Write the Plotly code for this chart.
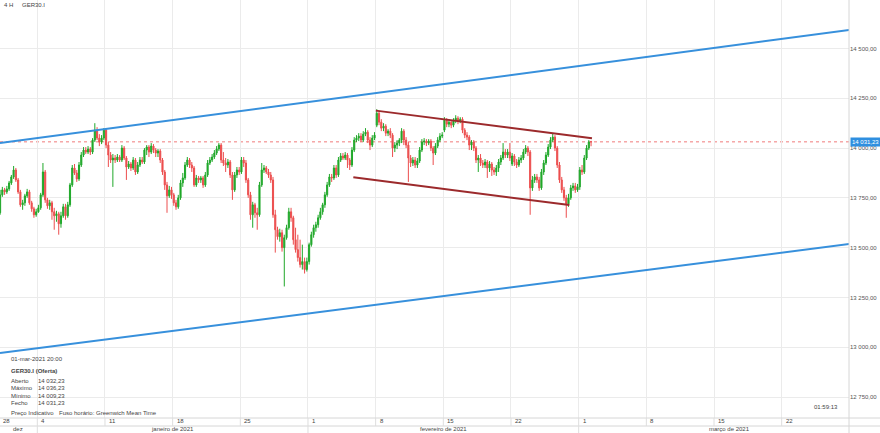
import plotly.graph_objects as go

# ---- data (4H candles, GER30.I, 28-dez-2020 .. 01-mar-2021 20:00) ----
opens = [
 13675, 13765, 13790, 13780, 13795, 13825, 13855, 13890, 13840, 13780,
 13715, 13725, 13760, 13780, 13725, 13695, 13665, 13680, 13700, 13765,
 13880, 13740, 13710, 13725, 13680, 13660, 13670, 13620, 13660, 13705,
 13660, 13715, 13815, 13900, 13875, 13845, 13915, 13965, 13990, 13980,
 13995, 13980, 14040, 14090, 14050, 14030, 14050, 14090, 14015, 13965,
 13940, 13950, 13940, 13955, 13940, 14000, 13950, 13905, 13920, 13900,
 13940, 13880, 13915, 13940, 13930, 13990, 14005, 13980, 14010, 13990,
 13975, 13985, 13940, 13880, 13815, 13760, 13790, 13765, 13725, 13705,
 13750, 13825, 13850, 13915, 13940, 13915, 13900, 13815, 13850, 13840,
 13850, 13815, 13865, 13925, 13940, 13955, 13975, 13995, 14015, 13940,
 13925, 13915, 13930, 13865, 13790, 13865, 13890, 13880, 13940, 13925,
 13840, 13765, 13665, 13715, 13675, 13665, 13815, 13890, 13900, 13880,
 13865, 13840, 13665, 13590, 13555, 13575, 13500, 13550, 13600, 13680,
 13650, 13540, 13490, 13450, 13415, 13430, 13390, 13430, 13515, 13565,
 13600, 13615, 13650, 13680, 13715, 13765, 13815, 13855, 13850, 13900,
 13865, 13940, 13960, 13950, 13965, 13940, 13915, 13990, 14040, 14050,
 14060, 14040, 14070, 14080, 14040, 14015, 14050, 14115, 14175, 14130,
 14100, 14110, 14075, 14085, 14065, 14000, 14015, 14025, 14040, 14085,
 14040, 14015, 13950, 13925, 13940, 13915, 13935, 13990, 14030, 14035,
 14025, 14035, 14000, 13975, 14010, 14040, 14060, 14090, 14140, 14120,
 14130, 14115, 14140, 14150, 14135, 14145, 14090, 14065, 14055, 14015,
 14030, 14000, 13940, 13950, 13925, 13915, 13930, 13900, 13920, 13890,
 13880, 13900, 13930, 13950, 13980, 13965, 13980, 13920, 13960, 13930,
 13915, 13940, 13950, 13980, 14000, 13980, 13800, 13840, 13855, 13840,
 13800, 13880, 13925, 13965, 14005, 14040, 14055, 14000, 13915, 13840,
 13790, 13750, 13720, 13750, 13800, 13810, 13790, 13805, 13890, 13880,
 13950, 14000, 14032.23]
highs = [
 13790, 13805, 13800, 13810, 13835, 13865, 13910, 13900, 13850, 13790,
 13740, 13770, 13795, 13790, 13735, 13705, 13695, 13715, 13775, 13925,
 13890, 13750, 13740, 13735, 13700, 13685, 13680, 13680, 13720, 13720,
 13730, 13825, 13915, 13920, 13890, 13930, 13980, 14005, 14005, 14010,
 14005, 14050, 14125, 14105, 14070, 14065, 14100, 14100, 14030, 13980,
 13970, 13965, 13970, 13965, 14015, 14010, 13960, 13935, 13930, 13955,
 13950, 13930, 13955, 13955, 14000, 14015, 14015, 14025, 14020, 14000,
 13995, 13995, 13950, 13890, 13830, 13810, 13805, 13775, 13740, 13765,
 13840, 13875, 13930, 13955, 13950, 13930, 13910, 13865, 13860, 13860,
 13860, 13880, 13940, 13955, 13970, 13990, 14010, 14025, 14025, 13980,
 13950, 13945, 13940, 13880, 13880, 13905, 13905, 13955, 13955, 13940,
 13850, 13780, 13730, 13725, 13700, 13830, 13925, 13915, 13910, 13895,
 13880, 13855, 13690, 13605, 13595, 13590, 13565, 13615, 13700, 13700,
 13660, 13600, 13565, 13540, 13515, 13450, 13450, 13525, 13580, 13615,
 13630, 13665, 13700, 13725, 13780, 13830, 13870, 13870, 13915, 13915,
 13955, 13975, 13975, 13980, 13975, 13950, 14005, 14055, 14065, 14075,
 14075, 14085, 14100, 14090, 14055, 14065, 14080, 14195, 14185, 14145,
 14125, 14120, 14095, 14100, 14075, 14030, 14040, 14050, 14100, 14095,
 14055, 14030, 13965, 13955, 13955, 13950, 14005, 14045, 14050, 14045,
 14045, 14045, 14010, 14025, 14055, 14075, 14080, 14155, 14150, 14145,
 14140, 14150, 14165, 14160, 14155, 14155, 14100, 14080, 14065, 14040,
 14040, 14010, 13965, 13970, 13940, 13945, 13940, 13935, 13930, 13905,
 13915, 13945, 13965, 14025, 13995, 13995, 14025, 13975, 13970, 13945,
 13955, 13965, 13995, 14015, 14010, 13990, 13860, 13870, 13870, 13855,
 13895, 13940, 13980, 14020, 14055, 14075, 14065, 14010, 13930, 13855,
 13805, 13765, 13770, 13815, 13825, 13825, 13820, 13905, 13915, 13965,
 14015, 14040, 14036.23]
lows = [
 13665, 13755, 13765, 13770, 13785, 13815, 13845, 13830, 13770, 13705,
 13690, 13710, 13750, 13715, 13680, 13650, 13655, 13675, 13690, 13755,
 13725, 13695, 13690, 13640, 13590, 13630, 13565, 13600, 13650, 13640,
 13650, 13705, 13805, 13865, 13830, 13835, 13905, 13955, 13970, 13970,
 13965, 13970, 14030, 14040, 14010, 14020, 14040, 14000, 13905, 13925,
 13805, 13925, 13930, 13930, 13930, 13940, 13840, 13895, 13885, 13890,
 13865, 13870, 13905, 13920, 13920, 13965, 13955, 13970, 13975, 13955,
 13955, 13925, 13865, 13790, 13675, 13750, 13745, 13710, 13690, 13695,
 13740, 13805, 13840, 13905, 13900, 13880, 13805, 13805, 13825, 13825,
 13800, 13805, 13855, 13915, 13930, 13945, 13965, 13985, 13925, 13910,
 13880, 13900, 13850, 13740, 13780, 13850, 13865, 13870, 13905, 13825,
 13750, 13640, 13600, 13650, 13590, 13655, 13805, 13875, 13870, 13850,
 13825, 13650, 13475, 13540, 13530, 13480, 13305, 13540, 13590, 13630,
 13515, 13475, 13430, 13400, 13390, 13370, 13380, 13415, 13505, 13550,
 13580, 13600, 13640, 13665, 13700, 13755, 13805, 13830, 13840, 13850,
 13855, 13930, 13940, 13940, 13900, 13890, 13905, 13980, 14030, 14035,
 14030, 14030, 14060, 14025, 13990, 14005, 14040, 14105, 14115, 14085,
 14085, 14060, 14060, 14050, 13955, 13980, 13995, 14010, 14025, 14015,
 14000, 13830, 13905, 13910, 13900, 13900, 13925, 13980, 14015, 14010,
 14015, 13985, 13915, 13965, 14000, 14030, 14050, 14080, 14105, 14105,
 14100, 14105, 14125, 14120, 14125, 14075, 14050, 14040, 13990, 13990,
 13985, 13925, 13880, 13910, 13900, 13900, 13850, 13880, 13860, 13865,
 13860, 13880, 13915, 13940, 13950, 13950, 13935, 13910, 13910, 13900,
 13905, 13925, 13940, 13970, 13960, 13665, 13785, 13825, 13825, 13785,
 13790, 13865, 13915, 13955, 13995, 14030, 13985, 13900, 13825, 13775,
 13735, 13650, 13705, 13740, 13785, 13775, 13780, 13790, 13865, 13870,
 13940, 13990, 14009.23]
closes = [
 13765, 13790, 13780, 13795, 13825, 13855, 13890, 13840, 13780, 13715,
 13725, 13760, 13780, 13725, 13695, 13665, 13680, 13700, 13765, 13880,
 13740, 13710, 13725, 13680, 13660, 13670, 13620, 13660, 13705, 13660,
 13715, 13815, 13900, 13875, 13845, 13915, 13965, 13990, 13980, 13995,
 13980, 14040, 14090, 14050, 14030, 14050, 14090, 14015, 13965, 13940,
 13950, 13940, 13955, 13940, 14000, 13950, 13905, 13920, 13900, 13940,
 13880, 13915, 13940, 13930, 13990, 14005, 13980, 14010, 13990, 13975,
 13985, 13940, 13880, 13815, 13760, 13790, 13765, 13725, 13705, 13750,
 13825, 13850, 13915, 13940, 13915, 13900, 13815, 13850, 13840, 13850,
 13815, 13865, 13925, 13940, 13955, 13975, 13995, 14015, 13940, 13925,
 13915, 13930, 13865, 13790, 13865, 13890, 13880, 13940, 13925, 13840,
 13765, 13665, 13715, 13675, 13665, 13815, 13890, 13900, 13880, 13865,
 13840, 13665, 13590, 13555, 13575, 13500, 13550, 13600, 13680, 13650,
 13540, 13490, 13450, 13415, 13430, 13390, 13430, 13515, 13565, 13600,
 13615, 13650, 13680, 13715, 13765, 13815, 13855, 13850, 13900, 13865,
 13940, 13960, 13950, 13965, 13940, 13915, 13990, 14040, 14050, 14060,
 14040, 14070, 14080, 14040, 14015, 14050, 14065, 14175, 14130, 14100,
 14110, 14075, 14085, 14065, 14000, 14015, 14025, 14040, 14085, 14040,
 14015, 13950, 13925, 13940, 13915, 13935, 13990, 14030, 14035, 14025,
 14035, 14000, 13975, 14010, 14040, 14060, 14065, 14140, 14120, 14130,
 14115, 14140, 14150, 14135, 14145, 14090, 14065, 14055, 14015, 14030,
 14000, 13940, 13950, 13925, 13915, 13930, 13900, 13920, 13890, 13880,
 13900, 13930, 13950, 13980, 13965, 13980, 13950, 13960, 13930, 13915,
 13940, 13950, 13980, 14000, 13980, 13800, 13840, 13855, 13840, 13800,
 13880, 13925, 13965, 14005, 14040, 14055, 14000, 13915, 13840, 13790,
 13750, 13720, 13750, 13800, 13810, 13790, 13805, 13890, 13880, 13950,
 14000, 14030, 14031.23]
assert len(opens) == len(highs) == len(lows) == len(closes) == 263

candle_index = list(range(len(closes)))

# weekly gridlines (candle index between Friday and Monday) and labels
week_ticks = [-0.5, 16.5, 46.5, 76.5, 106.5, 136.5, 166.5, 196.5, 226.5,
              256.5, 286.5, 316.5, 346.5]
week_labels = ["28", "4", "11", "18", "25", "1", "8", "15", "22",
               "1", "8", "15", "22"]
month_labels = ["dez", "janeiro de 2021", "fevereiro de 2021", "março de 2021"]
month_bounds = [-0.5, 16.5, 136.5, 256.5, 390.1]

y_ticks = [12750, 13000, 13250, 13500, 13750, 14000, 14250, 14500]

# drawn trend lines: (candle index, price) end points
upper_blue_x, upper_blue_y = [-0.04, 376.4], [14025, 14593]
lower_blue_x, lower_blue_y = [-0.04, 376.4], [12971, 13518]
chan_top_x, chan_top_y = [166.6, 262.4], [14188, 14049]
chan_bot_x, chan_bot_y = [156.6, 252.4], [13853, 13714]

last_time = "01-mar-2021 20:00"
instrument = "GER30.I (Oferta)"
countdown = "01:59:13"

# ---- helpers ----
def pt(v):
    s = f"{v:,.2f}"
    return s.replace(",", " ").replace(".", ",")

W, H = 880, 433
ML, MR, MT, MB = 0, 31, 0, 15
PW, PH = W - ML - MR, H - MT - MB
X_RANGE = [-0.035, 376.35]
Y_RANGE = [12644.6, 14743.5]

def py(ypix):  # pixel row -> paper y
    return (PH - ypix) / PH

def px(xpix):
    return xpix / PW

FONT = "Liberation Sans, Arial, sans-serif"
TXT = "#444444"
GRID = "#ebebeb"

fig = go.Figure()

fig.add_trace(go.Candlestick(
    x=candle_index, open=opens, high=highs, low=lows, close=closes,
    increasing=dict(line=dict(color="#20a82a", width=1), fillcolor="#20a82a"),
    decreasing=dict(line=dict(color="#ec4e4e", width=1), fillcolor="#ec4e4e"),
    whiskerwidth=0, hoverinfo="skip", showlegend=False))

for xs, ys, col in [(upper_blue_x, upper_blue_y, "#3790dc"),
                    (lower_blue_x, lower_blue_y, "#3790dc"),
                    (chan_top_x, chan_top_y, "#9c2a2c"),
                    (chan_bot_x, chan_bot_y, "#9c2a2c")]:
    fig.add_trace(go.Scatter(x=xs, y=ys, mode="lines",
                             line=dict(color=col, width=2),
                             hoverinfo="skip", showlegend=False))

shapes = []
# last price dashed line
shapes.append(dict(type="line", xref="paper", yref="y", x0=0, x1=1,
                   y0=closes[-1], y1=closes[-1], layer="below",
                   line=dict(color="#f07a7a", width=1, dash="3px,3px")))
# axis area separators
sep_y1 = py(426)
sep_y2 = py(433)
shapes.append(dict(type="line", xref="paper", yref="paper", x0=0, x1=W / PW,
                   y0=0, y1=0, line=dict(color="#d6d6d6", width=1)))
shapes.append(dict(type="line", xref="paper", yref="paper", x0=0, x1=W / PW,
                   y0=sep_y1, y1=sep_y1, line=dict(color="#d6d6d6", width=1)))
for t in week_ticks[1:]:
    shapes.append(dict(type="line", xref="x", yref="paper", x0=t, x1=t,
                       y0=0, y1=sep_y1, line=dict(color="#dedede", width=1)))
for t in month_bounds[1:4]:
    shapes.append(dict(type="line", xref="x", yref="paper", x0=t, x1=t,
                       y0=sep_y1, y1=sep_y2, line=dict(color="#dedede", width=1)))
shapes.append(dict(type="line", xref="paper", yref="paper", x0=1, x1=1,
                   y0=sep_y2, y1=1, line=dict(color="#d6d6d6", width=1)))

ann = []
def A(text, x, y, xref="paper", yref="paper", xanchor="left", size=6,
      color=TXT, **kw):
    ann.append(dict(text=text, x=x, y=y, xref=xref, yref=yref,
                    xanchor=xanchor, yanchor="middle", showarrow=False,
                    font=dict(family=FONT, size=size, color=color), **kw))

# week labels (row 1) and month labels (row 2)
for t, lab in zip(week_ticks, week_labels):
    A(lab, t + 0.9, py(421), xref="x")
for i, lab in enumerate(month_labels):
    c = (month_bounds[i] + month_bounds[i + 1]) / 2
    A(lab, c, py(429.5), xref="x", xanchor="center")

# top-left header
A("4 H", px(1.5), py(5))
A("GER30.I", px(20), py(5))

# info box
A(last_time, px(9), py(359))
A("<b>" + instrument + "</b>", px(9), py(370.5))
rows = [("Aberto", opens[-1]), ("Máximo", highs[-1]),
        ("Mínimo", lows[-1]), ("Fecho", closes[-1])]
for k, (lab, v) in enumerate(rows):
    yy = py(380.7 + k * 7.55)
    A(lab, px(9), yy)
    A(pt(v), px(35.5), yy)
A("Preço Indicativo", px(9), py(413))
A("Fuso horário: Greenwich Mean Time", px(56.5), py(413))

# countdown
A(countdown, px(839.5), py(407), xanchor="right")

# last price label on the axis
ann.append(dict(text=pt(closes[-1]), x=1, y=closes[-1], xref="paper", yref="y",
                xanchor="left", yanchor="middle", showarrow=False, xshift=1,
                bgcolor="#2f8fe0", borderpad=1,
                font=dict(family=FONT, size=6, color="white")))

fig.update_layout(
    width=W, height=H, margin=dict(l=ML, r=MR, t=MT, b=MB),
    paper_bgcolor="white", plot_bgcolor="white", showlegend=False,
    shapes=shapes, annotations=ann, hovermode=False,
    xaxis=dict(range=X_RANGE, tickvals=week_ticks, showticklabels=False,
               showgrid=True, gridcolor=GRID, gridwidth=1, zeroline=False,
               showline=False, ticks="", rangeslider=dict(visible=False),
               fixedrange=True),
    yaxis=dict(range=Y_RANGE, side="right", tickvals=y_ticks,
               ticktext=[pt(v) for v in y_ticks], showgrid=True,
               gridcolor=GRID, gridwidth=1, zeroline=False, showline=False,
               ticks="", tickfont=dict(family=FONT, size=6, color="#555555"),
               fixedrange=True),
)

fig.write_html(
    "out.html",
    config={"displayModeBar": False, "staticPlot": True},
    post_script="document.body.style.margin='0';document.body.style.overflow='hidden';",
)
